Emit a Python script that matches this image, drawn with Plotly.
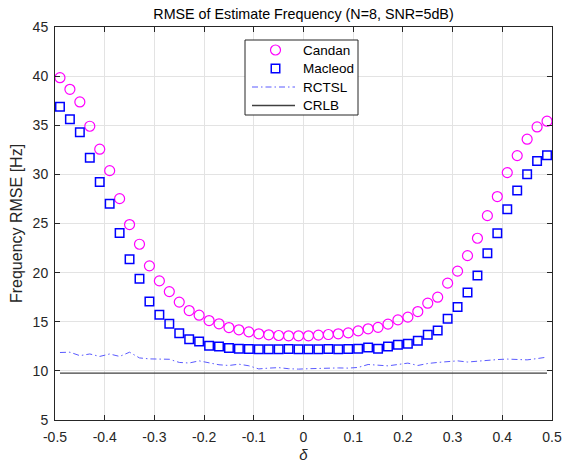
import plotly.graph_objects as go

x_vals = [round(-0.49 + 0.02 * i, 2) for i in range(50)]

candan = [39.84, 38.66, 37.37, 34.90, 32.56, 30.38, 27.53, 24.89, 22.89, 20.69,
          19.16, 18.07, 17.00, 16.14, 15.67, 15.12, 14.79, 14.41, 14.18, 13.97,
          13.77, 13.67, 13.60, 13.57, 13.57, 13.57, 13.64, 13.70, 13.77, 13.87,
          14.07, 14.28, 14.43, 14.76, 15.19, 15.47, 16.04, 16.89, 17.50, 18.93,
          20.15, 21.73, 23.50, 25.80, 27.74, 30.18, 31.91, 33.58, 34.83, 35.41]

macleod = [36.89, 35.61, 34.29, 31.70, 29.23, 27.00, 24.04, 21.37, 19.37, 17.06,
           15.70, 14.79, 13.84, 13.23, 12.99, 12.55, 12.48, 12.32, 12.25, 12.22,
           12.21, 12.20, 12.21, 12.22, 12.21, 12.20, 12.21, 12.22, 12.21, 12.22,
           12.24, 12.38, 12.24, 12.48, 12.65, 12.75, 13.06, 13.67, 14.11, 15.30,
           16.49, 17.97, 19.70, 21.98, 24.01, 26.45, 28.35, 30.02, 31.37, 31.95]

rctsl = [11.87, 11.90, 11.55, 11.72, 11.47, 11.72, 11.47, 11.90, 11.32, 11.22,
         11.20, 11.18, 10.86, 10.80, 11.02, 10.80, 10.62, 10.55, 10.68, 10.52,
         10.20, 10.28, 10.33, 10.22, 10.18, 10.22, 10.26, 10.32, 10.30, 10.28,
         10.35, 10.65, 10.58, 10.51, 10.65, 10.79, 10.55, 10.75, 10.86, 10.95,
         11.02, 10.90, 11.00, 11.12, 11.15, 11.20, 11.15, 11.12, 11.25, 11.40]

crlb_value = 9.77
crlb = [crlb_value for _ in x_vals]

series_names = ["Candan", "Macleod", "RCTSL", "CRLB"]

x_tick_vals = [-0.5, -0.4, -0.3, -0.2, -0.1, 0, 0.1, 0.2, 0.3, 0.4, 0.5]
x_tick_text = ["-0.5", "-0.4", "-0.3", "-0.2", "-0.1", "0", "0.1", "0.2", "0.3", "0.4", "0.5"]
y_tick_vals = [5, 10, 15, 20, 25, 30, 35, 40, 45]
y_tick_text = ["5", "10", "15", "20", "25", "30", "35", "40", "45"]

FONT = "Liberation Sans, Arial, sans-serif"
AX = "#262626"
C_CANDAN = "#ff00ff"
C_MACLEOD = "#0000ff"
C_RCTSL = "#5a5aff"
C_CRLB = "#404040"
RCTSL_DASH = "6px,3px,1.5px,3px"

W, H = 564, 468
ML, MR, MT, MB = 55, 12, 27, 48
PW, PH = W - ML - MR, H - MT - MB


def px_x(p):
    return (p - ML) / PW


def px_y(p):
    return (H - MB - p) / PH


fig = go.Figure()
fig.add_trace(go.Scatter(x=x_vals, y=candan, mode="markers", name=series_names[0], showlegend=False,
                         marker=dict(symbol="circle-open", size=10, color=C_CANDAN,
                                     line=dict(width=1.2, color=C_CANDAN))))
fig.add_trace(go.Scatter(x=x_vals, y=macleod, mode="markers", name=series_names[1], showlegend=False,
                         marker=dict(symbol="square-open", size=8.5, color=C_MACLEOD,
                                     line=dict(width=1.5, color=C_MACLEOD))))
fig.add_trace(go.Scatter(x=x_vals, y=rctsl, mode="lines", name=series_names[2], showlegend=False,
                         line=dict(color=C_RCTSL, width=1, dash=RCTSL_DASH)))
fig.add_trace(go.Scatter(x=x_vals, y=crlb, mode="lines", name=series_names[3], showlegend=False,
                         line=dict(color=C_CRLB, width=1.3)))

# hand-built legend box matching the reference layout
shapes = []
annotations = []
box_l, box_r, box_t, box_b = 245, 358, 40, 115
shapes.append(dict(type="rect", xref="paper", yref="paper",
                   x0=px_x(box_l), x1=px_x(box_r), y0=px_y(box_b), y1=px_y(box_t),
                   fillcolor="white", line=dict(color=AX, width=1), layer="above"))
row_y = [50, 68.5, 87, 105.5]
sym_x = 275.5
line_x0, line_x1 = 252, 295
text_x = 301
shapes.append(dict(type="circle", xref="paper", yref="paper", xsizemode="pixel", ysizemode="pixel",
                   xanchor=px_x(sym_x), yanchor=px_y(row_y[0]), x0=-5, x1=5, y0=-5, y1=5,
                   line=dict(color=C_CANDAN, width=1.2), layer="above"))
shapes.append(dict(type="rect", xref="paper", yref="paper", xsizemode="pixel", ysizemode="pixel",
                   xanchor=px_x(sym_x), yanchor=px_y(row_y[1]), x0=-4.25, x1=4.25, y0=-4.25, y1=4.25,
                   line=dict(color=C_MACLEOD, width=1.5), layer="above"))
shapes.append(dict(type="line", xref="paper", yref="paper",
                   x0=px_x(line_x0), x1=px_x(line_x1), y0=px_y(row_y[2]), y1=px_y(row_y[2]),
                   line=dict(color=C_RCTSL, width=1, dash=RCTSL_DASH), layer="above"))
shapes.append(dict(type="line", xref="paper", yref="paper",
                   x0=px_x(line_x0), x1=px_x(line_x1), y0=px_y(row_y[3]), y1=px_y(row_y[3]),
                   line=dict(color=C_CRLB, width=1.3), layer="above"))
for name, ry in zip(series_names, row_y):
    annotations.append(dict(text=name, xref="paper", yref="paper", x=px_x(text_x), y=px_y(ry),
                            xanchor="left", yanchor="middle", showarrow=False,
                            font=dict(family=FONT, size=13.5, color="black")))

axis_common = dict(
    showline=True, linecolor=AX, linewidth=1, mirror="ticks",
    ticks="inside", ticklen=5, tickcolor=AX, tickwidth=1,
    showgrid=True, gridcolor="#e3e3e3", gridwidth=1, zeroline=False,
    tickfont=dict(family=FONT, size=14, color=AX), automargin=False,
)

fig.update_layout(
    width=W, height=H,
    margin=dict(l=ML, r=MR, t=MT, b=MB),
    paper_bgcolor="white", plot_bgcolor="white",
    font=dict(family=FONT, size=14, color=AX),
    title=dict(text="RMSE of Estimate Frequency (N=8, SNR=5dB)",
               x=0.5, xref="paper", xanchor="center",
               y=1 - 14 / H, yref="container", yanchor="middle",
               font=dict(family=FONT, size=14.3, color="black")),
    showlegend=False,
    shapes=shapes,
    annotations=annotations,
)
fig.update_xaxes(range=[-0.5, 0.5], tickvals=x_tick_vals, ticktext=x_tick_text,
                 ticklabelstandoff=4,
                 title=dict(text="<i>δ</i>", font=dict(family=FONT, size=15, color=AX), standoff=5),
                 **axis_common)
fig.update_yaxes(range=[5, 45], tickvals=y_tick_vals, ticktext=y_tick_text,
                 ticklabelstandoff=3,
                 title=dict(text="Frequency RMSE [Hz]", font=dict(family=FONT, size=16, color=AX), standoff=6),
                 **axis_common)

fig.write_html("out.html")
